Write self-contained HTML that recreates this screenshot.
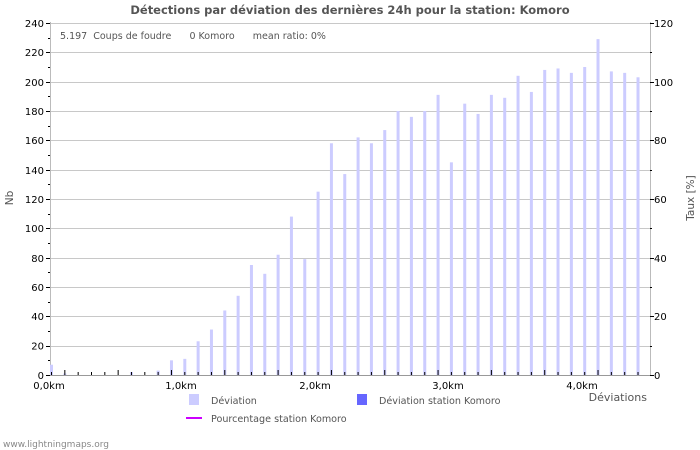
<!DOCTYPE html>
<html><head><meta charset="utf-8"><style>
body{margin:0;background:#fff}
svg{display:block;font-family:"DejaVu Sans","Liberation Sans",sans-serif}
text{white-space:pre}
</style></head><body>
<svg id="s" width="700" height="450" viewBox="0 0 700 450">
<rect width="700" height="450" fill="#fff"/>
<text x="350" y="14" text-anchor="middle" font-size="11.5" font-weight="bold" fill="#555">Détections par déviation des dernières 24h pour la station: Komoro</text>
<g id="grid" stroke="#c8c8c8" stroke-width="1"></g>
<line x1="50.5" y1="22" x2="50.5" y2="375" stroke="#bbb"/>
<line x1="650.5" y1="22" x2="650.5" y2="375" stroke="#bbb"/>
<g id="bars"></g>
<g id="ticks" stroke="#000" stroke-width="1"></g>
<g font-size="10" fill="#000" text-anchor="end">
<text x="44" y="379">0</text><text x="44" y="320">40</text><text x="44" y="349.5">20</text>
<text x="44" y="291">60</text><text x="44" y="262">80</text><text x="44" y="232">100</text>
<text x="44" y="203">120</text><text x="44" y="174">140</text><text x="44" y="144">160</text>
<text x="44" y="115">180</text><text x="44" y="86">200</text><text x="44" y="56">220</text><text x="44" y="27">240</text>
</g>
<g font-size="10" fill="#000">
<text x="654" y="379">0</text><text x="654" y="320">20</text><text x="654" y="262">40</text>
<text x="654" y="203">60</text><text x="654" y="144">80</text><text x="654" y="86">100</text><text x="654" y="27">120</text>
</g>
<g font-size="10" fill="#000" text-anchor="middle">
<text x="49" y="389">0,0km</text><text x="181" y="389">1,0km</text><text x="315" y="389">2,0km</text>
<text x="448" y="389">3,0km</text><text x="582" y="389">4,0km</text>
</g>
<text x="60" y="39" font-size="9.5" fill="#555" xml:space="preserve">5.197  Coups de foudre      0 Komoro      mean ratio: 0%</text>
<text x="13" y="198" font-size="10.5" fill="#555" transform="rotate(-90 13 198)" text-anchor="middle">Nb</text>
<text x="694" y="198" font-size="10.5" fill="#555" transform="rotate(-90 694 198)" text-anchor="middle">Taux [%]</text>
<text x="647" y="401" font-size="11" fill="#555" text-anchor="end">Déviations</text>
<rect x="189" y="394" width="10" height="11" fill="#ccccff"/>
<text x="211" y="404" font-size="9.6" fill="#555">Déviation</text>
<rect x="357" y="394" width="10" height="11" fill="#6666ff"/>
<text x="379" y="404" font-size="9.6" fill="#555">Déviation station Komoro</text>
<line x1="186" y1="418" x2="202" y2="418" stroke="#cc00ff" stroke-width="2"/>
<text x="211" y="422" font-size="9.6" fill="#555">Pourcentage station Komoro</text>
<text x="3" y="447" font-size="9" fill="#888">www.lightningmaps.org</text>
</svg>
<script>
var ns="http://www.w3.org/2000/svg";
function el(p,t,a){var e=document.createElementNS(ns,t);for(var k in a)e.setAttribute(k,a[k]);document.getElementById(p).appendChild(e);}
var y0=375,sc=352/240;
for(var v=20;v<=240;v+=20){var y=Math.round(y0-v*sc)+0.5;el("grid","line",{x1:50,x2:650,y1:y,y2:y});}
for(var v=0;v<=240;v+=10){var y=Math.round(y0-v*sc)+0.5;el("ticks","line",{x1:v%20?48:46,x2:50,y1:y,y2:y});}
for(var v=0;v<=240;v+=20){var y=Math.round(y0-v*sc)+0.5;el("ticks","line",{x1:650,x2:v%40?652:654,y1:y,y2:y});}
var d=[7,1,0,0,0,0,2,0,3,10,11,23,31,44,54,75,69,82,108,79,125,158,137,162,158,167,180,176,180,191,145,185,178,191,189,204,193,208,209,206,210,229,207,206,203];
for(var i=0;i<d.length;i++){var x=50+i*13.33;var h=d[i]*sc;
if(h>0)el("bars","rect",{x:x,y:y0-h,width:3,height:h,fill:"#ccccff"});
el("ticks","line",{x1:x+1.5,x2:x+1.5,y1:i%4==1?370:372,y2:375});}
el("ticks","line",{x1:50,x2:650,y1:375.5,y2:375.5,stroke:"#999"});
</script>
</body></html>
